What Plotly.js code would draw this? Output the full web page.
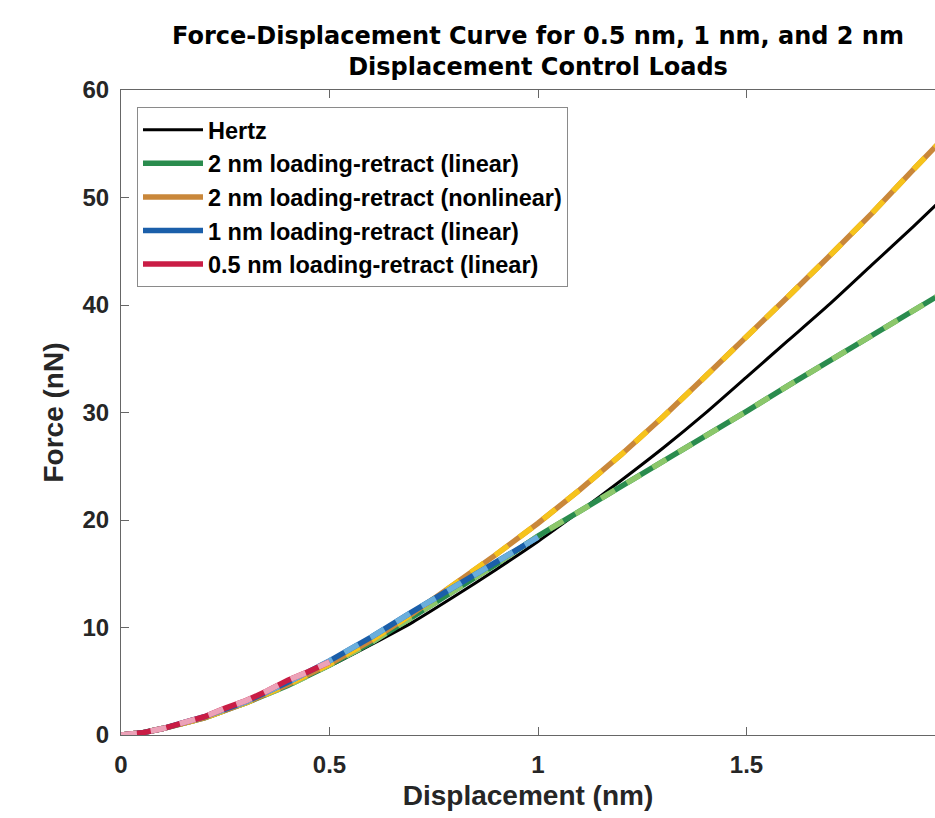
<!DOCTYPE html>
<html>
<head>
<meta charset="utf-8">
<script src="https://cdn.plot.ly/plotly-3.0.1.min.js"></script>
<style>html,body{margin:0;padding:0;background:#fff;overflow:hidden;}</style>
</head>
<body>
<div id="chart" style="width:935px;height:818px;"></div>
<script>
// ---- data ----
const dispLong = [0, 0.05, 0.1, 0.2, 0.3, 0.4, 0.5, 0.6, 0.7, 0.8, 0.9, 1.0, 1.1, 1.2, 1.3, 1.4, 1.5, 1.6, 1.7, 1.8, 1.9, 2.0];
const hertzForce = [0, 0.2, 0.6, 1.6, 3.0, 4.6, 6.4, 8.4, 10.5, 12.9, 15.4, 18.0, 20.8, 23.7, 26.7, 29.9, 33.3, 36.7, 40.1, 43.7, 47.3, 51.0];
const linear2Force = [0, 0.2, 0.6, 1.6, 3.0, 4.6, 6.5, 8.6, 11.0, 13.4, 15.9, 18.5, 20.8, 23.1, 25.5, 27.8, 30.1, 32.5, 34.8, 37.1, 39.5, 41.8];
const nonlinear2Force = [0, 0.2, 0.6, 1.6, 3.0, 4.7, 6.6, 8.8, 11.3, 14.0, 16.8, 19.7, 22.8, 26.1, 29.6, 33.3, 37.0, 40.8, 44.6, 48.5, 52.6, 56.6];
const disp1 = [0, 0.05, 0.1, 0.2, 0.3, 0.4, 0.5, 0.6, 0.7, 0.8, 0.9, 1.0];
const linear1Force = [0, 0.2, 0.6, 1.7, 3.1, 4.9, 6.9, 9.1, 11.5, 13.8, 16.0, 18.4];
const disp05 = [0, 0.05, 0.1, 0.15, 0.2, 0.25, 0.3, 0.35, 0.4, 0.45, 0.5];
const linear05Force = [0, 0.2, 0.6, 1.1, 1.7, 2.5, 3.2, 4.1, 5.1, 5.9, 6.8];
const xTicks = [0, 0.5, 1, 1.5];
const xTickText = ['0', '0.5', '1', '1.5'];
const yTicks = [0, 10, 20, 30, 40, 50, 60];

const seriesNames = ['Hertz', '2 nm loading-retract (linear)', '2 nm loading-retract (nonlinear)', '1 nm loading-retract (linear)', '0.5 nm loading-retract (linear)'];

const DASH = '16px,14px';
function pair(x, y, name, dark, light) {
  return [
    {x: x, y: y, type: 'scatter', mode: 'lines', name: name, legendgroup: name,
     line: {color: dark, width: 5.5}, hoverinfo: 'skip'},
    {x: x, y: y, type: 'scatter', mode: 'lines', name: name, legendgroup: name, showlegend: false,
     line: {color: light, width: 5.5, dash: DASH}, hoverinfo: 'skip'}
  ];
}

const traces = [
  {x: dispLong, y: hertzForce, type: 'scatter', mode: 'lines', name: seriesNames[0],
   line: {color: '#000000', width: 3, shape: 'spline', smoothing: 0.6}, hoverinfo: 'skip'},
  ...pair(dispLong, linear2Force, seriesNames[1], '#2a8c4e', '#8cc76b'),
  ...pair(dispLong, nonlinear2Force, seriesNames[2], '#c9873a', '#f6c31c'),
  ...pair(disp1, linear1Force, seriesNames[3], '#1b5faa', '#6aaedc'),
  ...pair(disp05, linear05Force, seriesNames[4], '#c91d45', '#eca2b8')
];

const tickFont = {family: 'Liberation Sans, Arial, sans-serif', size: 24, color: '#262626', weight: 'bold'};
const axTitleFont = {family: 'Liberation Sans, Arial, sans-serif', size: 28, color: '#262626', weight: 'bold'};

const layout = {
  width: 935, height: 818,
  paper_bgcolor: '#ffffff', plot_bgcolor: '#ffffff',
  margin: {l: 121, r: 0, t: 90, b: 83},
  title: {
    text: 'Force-Displacement Curve for 0.5 nm, 1 nm, and 2 nm<br>Displacement Control Loads',
    font: {family: 'DejaVu Sans, sans-serif', size: 24, color: '#000000', weight: 'bold'},
    xref: 'container', x: 538 / 935, xanchor: 'center',
    yref: 'container', y: 1 - 44 / 818, yanchor: 'top'
  },
  xaxis: {
    range: [0, (935 - 121) / 417],
    tickvals: xTicks, ticktext: xTickText,
    ticks: 'inside', ticklen: 8, tickwidth: 1, tickcolor: '#666666',
    showline: true, linecolor: '#666666', linewidth: 1, mirror: 'ticks',
    showgrid: false, zeroline: false,
    tickfont: tickFont, ticklabelstandoff: 8,
    title: {text: 'Displacement (nm)', font: axTitleFont, standoff: 8}
  },
  yaxis: {
    range: [0, 60],
    tickvals: yTicks,
    ticks: 'inside', ticklen: 8, tickwidth: 1, tickcolor: '#666666',
    showline: true, linecolor: '#666666', linewidth: 1, mirror: false,
    showgrid: false, zeroline: false,
    tickfont: tickFont, ticklabelstandoff: 6,
    title: {text: 'Force (nN)', font: axTitleFont, standoff: 10}
  },
  legend: {
    x: (137 - 121) / 814, y: (735 - 107) / 645, xanchor: 'left', yanchor: 'top',
    bgcolor: '#ffffff', bordercolor: '#8a8a8a', borderwidth: 1,
    font: {family: 'Liberation Sans, Arial, sans-serif', size: 23.5, color: '#000000', weight: 'bold'},
    itemwidth: 60, tracegroupgap: 0
  },
  showlegend: true
};

Plotly.newPlot('chart', traces, layout, {staticPlot: true, displayModeBar: false});
</script>
</body>
</html>
